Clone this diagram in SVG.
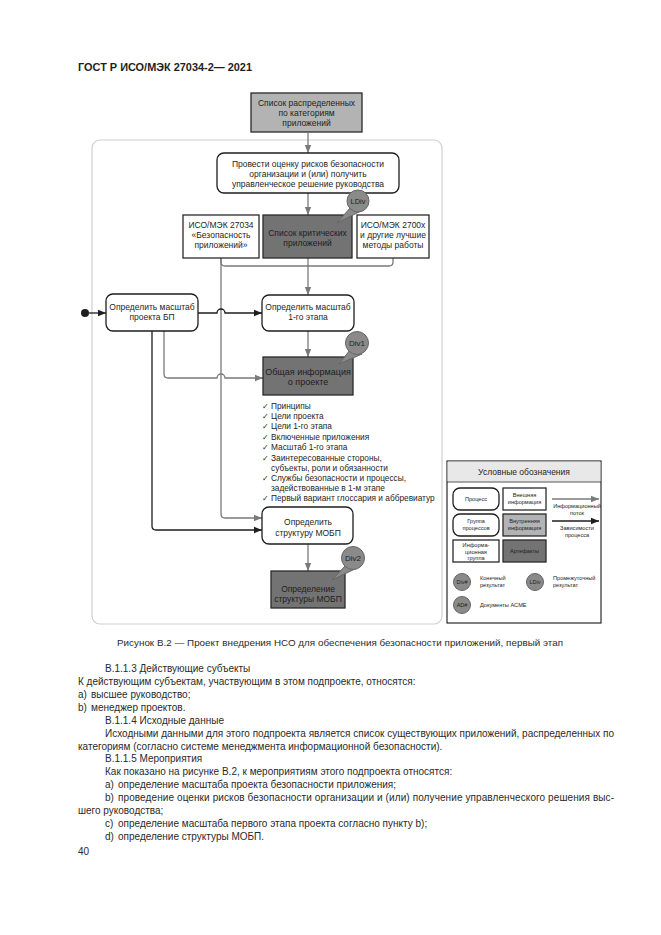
<svg xmlns="http://www.w3.org/2000/svg" width="661" height="935" viewBox="0 0 661 935">
<defs>
<style>
.t{font-family:"Liberation Sans",Arial,sans-serif;fill:#1e1e1e}
.c{text-anchor:middle}
.d8{font-size:8.5px}
.d6{font-size:5.6px}
.body{font-size:10px;fill:#2a2a2a}
.proc{fill:#fff;stroke:#1e1e1e;stroke-width:1.3}
.ext{fill:#fff;stroke:#2a2a2a;stroke-width:1.3}
.int{fill:#b3b3b3;stroke:#2a2a2a;stroke-width:1.3}
.art{fill:#737373;stroke:#2a2a2a;stroke-width:1.3}
.bub{fill:#8a8a8a;stroke:#666;stroke-width:1}
.flow{stroke:#7a7a7a;stroke-width:1.3;fill:none}
.dep{stroke:#1e1e1e;stroke-width:1.3;fill:none}
.fa{marker-end:url(#ag)}
.da{marker-end:url(#ab)}
.ck{font-family:"DejaVu Sans",sans-serif;font-size:8px}
</style>
<marker id="ag" viewBox="0 0 10 10" refX="10" refY="5" markerWidth="8" markerHeight="8" markerUnits="userSpaceOnUse" orient="auto"><path d="M0,1 L10,5 L0,9 Z" fill="#7a7a7a"/></marker>
<marker id="ab" viewBox="0 0 10 10" refX="10" refY="5" markerWidth="8" markerHeight="8" markerUnits="userSpaceOnUse" orient="auto"><path d="M0,1 L10,5 L0,9 Z" fill="#1e1e1e"/></marker>
</defs>
<rect width="661" height="935" fill="#fff"/>
<text class="t" x="78" y="71" font-size="11.5" font-weight="bold" textLength="174" lengthAdjust="spacingAndGlyphs">ГОСТ Р ИСО/МЭК 27034-2— 2021</text>

<rect id="panel" x="92" y="140" width="350" height="484" rx="8" fill="none" stroke="#cfcfcf" stroke-width="1.2"/>

<g id="connectors">
<line class="flow fa" x1="308" y1="133" x2="308" y2="153"/>
<line class="flow fa" x1="308" y1="193" x2="308" y2="215"/>
<path class="flow" d="M221,258 V262 Q221,266 225,266 H389 Q393,266 393,262 V258"/>
<line class="flow" x1="308" y1="258" x2="308" y2="266"/>
<line class="flow fa" x1="308" y1="266" x2="308" y2="295"/>
<path class="flow fa" d="M221,258 V514 Q221,518 225,518 H262"/>
<circle cx="85" cy="313" r="4" fill="#1e1e1e"/>
<line class="dep da" x1="89" y1="313" x2="106" y2="313"/>
<path class="dep da" d="M198,313 H217 A4,4 0 0 1 225,313 H262"/>
<line class="flow fa" x1="308" y1="331" x2="308" y2="357"/>
<path class="flow fa" d="M164,331 V374 Q164,378 168,378 H217 A4,4 0 0 1 225,378 H263"/>
<path class="dep da" d="M152,331 V526 Q152,530 156,530 H262"/>
<line class="flow fa" x1="308" y1="544" x2="308" y2="571"/>
</g>

<g id="n-list">
<rect class="int" x="251" y="93" width="111" height="39"/>
<text class="t c d8" x="306.5" y="106">Список распределенных</text>
<text class="t c d8" x="306.5" y="116">по категориям</text>
<text class="t c d8" x="306.5" y="126">приложений</text>
</g>

<g id="n-risk">
<rect class="proc" x="217" y="153" width="182" height="40" rx="7"/>
<text class="t c d8" x="308" y="167">Провести оценку рисков безопасности</text>
<text class="t c d8" x="308" y="177">организации и (или) получить</text>
<text class="t c d8" x="308" y="187">управленческое решение руководства</text>
</g>

<g id="n-iso27034">
<rect class="ext" x="183" y="215" width="76" height="43"/>
<text class="t c d8" x="221" y="228">ИСО/МЭК 27034</text>
<text class="t c d8" x="221" y="238">«Безопасность</text>
<text class="t c d8" x="221" y="248">приложений»</text>
</g>

<g id="n-critical">
<rect class="art" x="263" y="215" width="89" height="43"/>
<text class="t c d8" x="307.5" y="236">Список критических</text>
<text class="t c d8" x="307.5" y="246">приложений</text>
</g>

<g id="n-iso2700x">
<rect class="ext" x="357" y="215" width="72" height="43"/>
<text class="t c d8" x="393" y="228">ИСО/МЭК 2700x</text>
<text class="t c d8" x="393" y="238">и другие лучшие</text>
<text class="t c d8" x="393" y="248">методы работы</text>
</g>

<g id="b-ldiv">
<path class="bub" d="M350,208 L337,223 L361,211 Z"/>
<circle class="bub" cx="358" cy="201" r="11"/>
<text class="t c" x="358" y="204" font-size="7.5">LDiv</text>
</g>

<g id="n-scope">
<rect class="proc" x="106" y="294" width="92" height="37" rx="7"/>
<text class="t c d8" x="152" y="310">Определить масштаб</text>
<text class="t c d8" x="152" y="320">проекта БП</text>
</g>

<g id="n-stage">
<rect class="proc" x="262" y="295" width="92" height="36" rx="7"/>
<text class="t c d8" x="308" y="310">Определить масштаб</text>
<text class="t c d8" x="308" y="320">1-го этапа</text>
</g>

<g id="n-info">
<rect class="art" x="263" y="357" width="90" height="38"/>
<text class="t c" x="308" y="375" font-size="9">Общая информация</text>
<text class="t c" x="308" y="385" font-size="9">о проекте</text>
</g>

<g id="b-div1">
<path class="bub" d="M350,350 L339,364 L362,354 Z"/>
<circle class="bub" cx="357" cy="343" r="11.5"/>
<text class="t c" x="357" y="346" font-size="8">Div1</text>
</g>

<g id="checklist" class="t" font-size="8.3">
<text x="262" y="409"><tspan class="ck">✓</tspan> Принципы</text>
<text x="262" y="419"><tspan class="ck">✓</tspan> Цели проекта</text>
<text x="262" y="429"><tspan class="ck">✓</tspan> Цели 1-го этапа</text>
<text x="262" y="439.5"><tspan class="ck">✓</tspan> Включенные приложения</text>
<text x="262" y="450"><tspan class="ck">✓</tspan> Масштаб 1-го этапа</text>
<text x="262" y="461"><tspan class="ck">✓</tspan> Заинтересованные стороны,</text>
<text x="271" y="471">субъекты, роли и обязанности</text>
<text x="262" y="481"><tspan class="ck">✓</tspan> Службы безопасности и процессы,</text>
<text x="271" y="491">задействованные в 1-м этапе</text>
<text x="262" y="501"><tspan class="ck">✓</tspan> Первый вариант глоссария и аббревиатур</text>
</g>

<g id="n-struct">
<rect class="proc" x="262" y="507" width="91" height="37" rx="7"/>
<text class="t c d8" x="308" y="525">Определить</text>
<text class="t c d8" x="308" y="536">структуру МОБП</text>
</g>

<g id="n-structart">
<rect class="art" x="271" y="571" width="74" height="37"/>
<text class="t c d8" x="308" y="592">Определение</text>
<text class="t c d8" x="308" y="602">структуры МОБП</text>
</g>

<g id="b-div2">
<path class="bub" d="M346,565 L332,580 L357,568 Z"/>
<circle class="bub" cx="353" cy="558" r="11.5"/>
<text class="t c" x="353" y="561" font-size="8">Div2</text>
</g>

<g id="legend">
<rect x="447" y="461" width="154" height="162" fill="#fff" stroke="#2a2a2a" stroke-width="1.2"/>
<rect x="447.6" y="461.6" width="152.8" height="20" fill="#e8e8e8"/>
<line x1="447" y1="482" x2="601" y2="482" stroke="#2a2a2a" stroke-width="0.8"/>
<text class="t c" x="524" y="475" font-size="8.5">Условные обозначения</text>
<rect class="proc" x="453" y="488" width="46" height="22" rx="7"/>
<text class="t c d6" x="476" y="501">Процесс</text>
<rect class="ext" x="503" y="488" width="43" height="22"/>
<text class="t c d6" x="524.5" y="497">Внешняя</text>
<text class="t c d6" x="524.5" y="504">информация</text>
<rect class="proc" x="453" y="514" width="46" height="22" rx="7"/>
<text class="t c d6" x="476" y="523">Группа</text>
<text class="t c d6" x="476" y="530">процессов</text>
<rect class="int" x="503" y="514" width="43" height="22"/>
<text class="t c d6" x="524.5" y="523">Внутренняя</text>
<text class="t c d6" x="524.5" y="530">информация</text>
<rect class="ext" x="453" y="540" width="46" height="22"/>
<text class="t c d6" x="476" y="547">Информа-</text>
<text class="t c d6" x="476" y="553.5">ционная</text>
<text class="t c d6" x="476" y="560">группа</text>
<rect class="art" x="503" y="540" width="43" height="22"/>
<text class="t c d6" x="524.5" y="553">Артефакты</text>
<line class="flow fa" x1="552" y1="499" x2="599" y2="499"/>
<text class="t c d6" x="577" y="508">Информационный</text>
<text class="t c d6" x="577" y="515">поток</text>
<line class="dep da" x1="552" y1="521" x2="599" y2="521"/>
<text class="t c d6" x="577" y="530">Зависимости</text>
<text class="t c d6" x="577" y="537">процесса</text>
<circle class="bub" cx="462" cy="582" r="8.5"/>
<text class="t c" x="462" y="584" font-size="5.5">Div#</text>
<text class="t d6" x="480" y="580">Конечный</text>
<text class="t d6" x="480" y="587">результат</text>
<circle class="bub" cx="535" cy="582" r="8.5"/>
<text class="t c" x="535" y="584" font-size="5.5">LDiv</text>
<text class="t d6" x="553" y="580">Промежуточный</text>
<text class="t d6" x="553" y="587">результат</text>
<circle class="bub" cx="462" cy="605" r="8.5"/>
<text class="t c" x="462" y="607" font-size="5.5">AD#</text>
<text class="t d6" x="480" y="607">Документы ACME</text>
</g>

<g id="textblock" class="t body">
<text x="117" y="645.5" font-size="9.8" textLength="446" lengthAdjust="spacing">Рисунок В.2 — Проект внедрения НСО для обеспечения безопасности приложений, первый этап</text>
<text x="105" y="671.5">В.1.1.3 Действующие субъекты</text>
<text x="78" y="684.5">К действующим субъектам, участвующим в этом подпроекте, относятся:</text>
<text x="78" y="697.5">a)<tspan x="91">высшее руководство;</tspan></text>
<text x="78" y="710.5">b)<tspan x="91">менеджер проектов.</tspan></text>
<text x="105" y="723.5">В.1.1.4 Исходные данные</text>
<text x="105" y="736.5" textLength="509" lengthAdjust="spacing">Исходными данными для этого подпроекта является список существующих приложений, распределенных по</text>
<text x="78" y="749.5">категориям (согласно системе менеджмента информационной безопасности).</text>
<text x="105" y="761.5">В.1.1.5 Мероприятия</text>
<text x="105" y="774.5">Как показано на рисунке В.2, к мероприятиям этого подпроекта относятся:</text>
<text x="105" y="787.5">a)<tspan x="118">определение масштаба проекта безопасности приложения;</tspan></text>
<text x="105" y="800.5">b)<tspan x="118" textLength="496" lengthAdjust="spacing">проведение оценки рисков безопасности организации и (или) получение управленческого решения выс-</tspan></text>
<text x="78" y="813.5">шего руководства;</text>
<text x="105" y="826.5">c)<tspan x="118">определение масштаба первого этапа проекта согласно пункту b);</tspan></text>
<text x="105" y="839.5">d)<tspan x="118">определение структуры МОБП.</tspan></text>
<text x="78" y="854.5">40</text>
</g>
</svg>
